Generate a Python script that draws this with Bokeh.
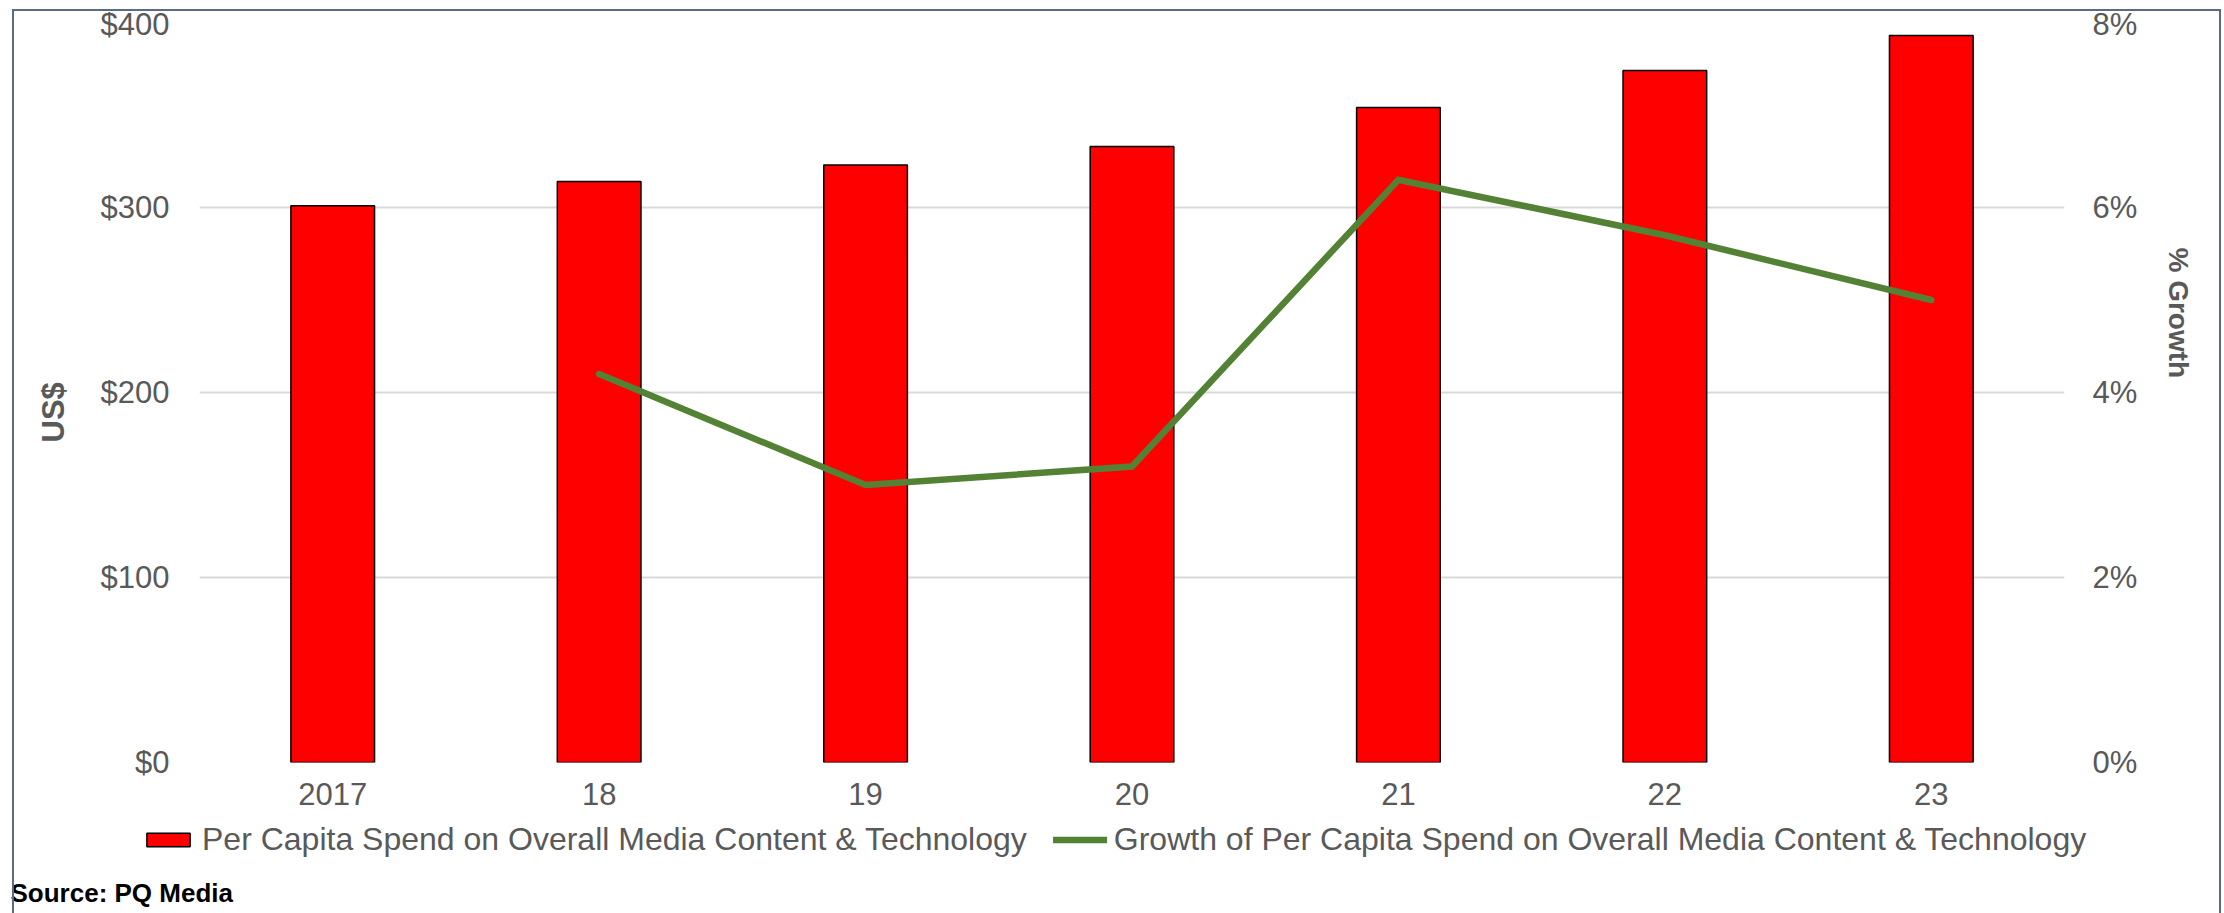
from bokeh.plotting import figure
from bokeh.models import (Range1d, LinearAxis, FixedTicker, NumeralTickFormatter,
                          PrintfTickFormatter, Legend, LegendItem, Title, Label,
                          FactorRange, Div)
from bokeh.embed import file_html
from bokeh.resources import INLINE

# ---------------- data ----------------
years = ["2017", "18", "19", "20", "21", "22", "23"]
spend = [301, 314, 323, 333, 354, 374, 393]          # US$ per capita
growth_years = ["18", "19", "20", "21", "22", "23"]
growth = [4.2, 3.0, 3.2, 6.3, 5.7, 5.0]               # % growth
left_ticks = [0, 100, 200, 300, 400]
right_ticks = [0, 2, 4, 6, 8]
bar_label = "Per Capita Spend on Overall Media Content & Technology"
line_label = "Growth of Per Capita Spend on Overall Media Content & Technology"
left_title = "US$"
right_title = "% Growth"
source_text = "Source: PQ Media"

FONT = "Liberation Sans"
GRAY = "#595959"
BORDER = "#5b6b85"
RED = "#ff0000"
GREEN = "#548235"
W = 2205
H1 = 814
H2 = 93
X0, Y0 = 9, 6


def bar_style(fig, **kw):
    return fig.vbar(x=years, top=spend, width=0.314, bottom=0,
                    fill_color=RED, line_color="black", line_width=1.5, **kw)


def line_style(fig, **kw):
    return fig.line(x=growth_years, y=growth, line_color=GREEN, line_width=6.5,
                    line_cap="round", line_join="miter", **kw)


# ---------------- main chart ----------------
p = figure(x_range=FactorRange(*years, range_padding=0),
           y_range=Range1d(0, 400),
           width=W, height=H1,
           output_backend="svg", toolbar_location=None,
           min_border_left=187, min_border_right=147,
           min_border_top=16, min_border_bottom=58)
p.outline_line_color = None
p.background_fill_color = "white"
p.border_fill_color = "white"
p.styles = {"position": "absolute", "left": f"{X0}px", "top": f"{Y0}px"}

p.xgrid.visible = False
p.ygrid.ticker = FixedTicker(ticks=left_ticks)
p.ygrid.grid_line_color = "#d9d9d9"
p.ygrid.grid_line_width = 2

ly = p.yaxis[0]
ly.ticker = FixedTicker(ticks=left_ticks)
ly.formatter = NumeralTickFormatter(format="$0")

p.extra_y_ranges = {"pct": Range1d(0, 8)}
ry = LinearAxis(y_range_name="pct", ticker=FixedTicker(ticks=right_ticks),
                formatter=PrintfTickFormatter(format="%d%%"))
p.add_layout(ry, "right")

for ax in [ly, ry, p.xaxis[0]]:
    ax.axis_line_color = None
    ax.major_tick_line_color = None
    ax.minor_tick_line_color = None
    ax.major_tick_out = 0
    ax.major_tick_in = 0
    ax.major_label_text_font = FONT
    ax.major_label_text_font_size = "31px"
    ax.major_label_text_color = GRAY
ly.major_label_standoff = 30
ry.major_label_standoff = 28
p.xaxis[0].major_label_standoff = 20

bars = bar_style(p)
ln = line_style(p, y_range_name="pct")

p.add_layout(Title(text=left_title, align="left", offset=320, vertical_align="middle",
                   standoff=51, text_font=FONT, text_font_size="31px",
                   text_font_style="bold", text_color=GRAY), "left")
p.add_layout(Title(text=right_title, align="left", offset=225, vertical_align="top",
                   standoff=41, text_font=FONT, text_font_size="28px",
                   text_font_style="bold", text_color=GRAY), "right")

# ---------------- legend + source strip (separate root below) ----------------
q = figure(width=W, height=H2,
           x_range=FactorRange(*years, range_padding=0), y_range=Range1d(0, 8),
           output_backend="svg", toolbar_location=None,
           x_axis_location=None, y_axis_location=None,
           min_border_left=0, min_border_right=0, min_border_top=0, min_border_bottom=0)
q.grid.visible = False
q.outline_line_color = None
q.background_fill_color = "white"
q.border_fill_color = "white"
q.styles = {"position": "absolute", "left": f"{X0}px", "top": f"{Y0 + H1}px"}

# hidden copies of the series: they only provide the legend swatches
kb = bar_style(q, visible=False)
kl = line_style(q, visible=False)

legend = Legend(items=[LegendItem(label=bar_label, renderers=[kb]),
                       LegendItem(label=line_label, renderers=[kl])],
                orientation="horizontal", location=(132, 55),
                glyph_width=54, glyph_height=17, label_standoff=7, spacing=26,
                padding=0, margin=0, border_line_color=None,
                background_fill_alpha=0, inactive_fill_alpha=0,
                label_text_font=FONT, label_text_font_size="32px",
                label_text_color=GRAY)
q.add_layout(legend)

q.add_layout(Label(x=1, y=6, x_units="screen", y_units="screen", text=source_text,
                   text_align="left", text_baseline="bottom",
                   text_font=FONT, text_font_size="26px", text_font_style="bold",
                   text_color="black"))

# ---------------- outer chart border ----------------
frame_box = Div(text="", width=W + 4, height=H1 + H2 + 2,
                styles={"position": "absolute", "left": f"{X0 - 2}px", "top": f"{Y0 - 2}px",
                        "box-sizing": "border-box",
                        "border-left": f"2px solid {BORDER}",
                        "border-right": f"2px solid {BORDER}",
                        "border-top": f"2px solid {BORDER}",
                        "pointer-events": "none", "z-index": "10",
                        "background": "transparent"})

open("out.html", "w").write(file_html([p, q, frame_box], INLINE))
